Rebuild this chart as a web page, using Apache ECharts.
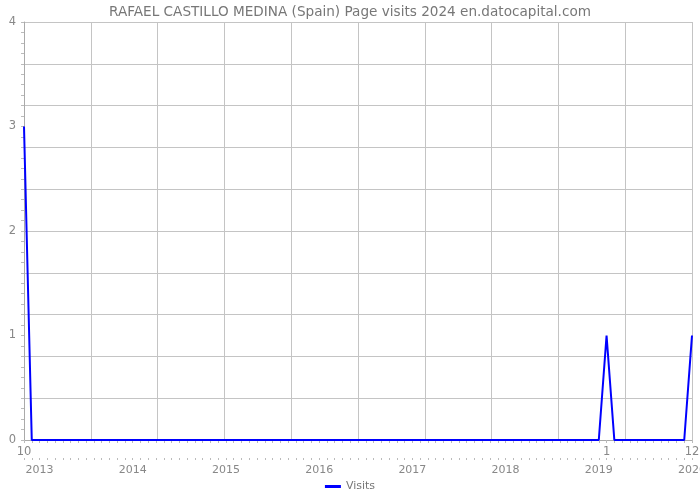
<!DOCTYPE html>
<html>
<head>
<meta charset="utf-8">
<script src="https://cdn.jsdelivr.net/npm/echarts@6/dist/echarts.min.js"></script>
<style>html,body{margin:0;padding:0;background:#fff}#c{width:700px;height:500px}</style>
</head>
<body>
<div id="c"></div>
<script>
// Monthly categories Oct 2013 .. Dec 2020
var startYear = 2013, startMonth = 10, monthCount = 87;
var months = [];
for (var i = 0; i < monthCount; i++) {
  var m = startMonth - 1 + i;
  var y = startYear + Math.floor(m / 12);
  months.push(y + '-' + String(m % 12 + 1).padStart(2, '0'));
}
// Page visits per month
var visits = [
  3,0,0,0,0,0,0,0,0,0,0,0,0,0,0,0,0,0,0,0,0,0,0,0,0,
  0,0,0,0,0,0,0,0,0,0,0,0,0,0,0,0,0,0,0,0,0,0,0,0,0,
  0,0,0,0,0,0,0,0,0,0,0,0,0,0,0,0,0,0,0,0,0,0,0,0,0,
  1,0,0,0,0,0,0,0,0,0,0,1
];
// Month tick labels (first row)
var monthTickLabels = { '2013-10': '10', '2020-01': '1', '2020-12': '12' };
// Year tick labels (second row), placed at December of each year
var yearTickLabels = { '2013-12': '2013', '2014-12': '2014', '2015-12': '2015', '2016-12': '2016',
  '2017-12': '2017', '2018-12': '2018', '2019-12': '2019', '2020-12': '2020' };
var yTickLabels = [0, 1, 2, 3, 4];

var FONT = 'DejaVu Sans';
var chart = echarts.init(document.getElementById('c'), null, { renderer: 'canvas' });
chart.setOption({
  animation: false,
  textStyle: { fontFamily: FONT },
  title: {
    text: 'RAFAEL CASTILLO MEDINA (Spain) Page visits 2024 en.datocapital.com',
    left: 'center', top: 0,
    textStyle: { fontSize: 13.6, fontWeight: 'normal', color: '#777', fontFamily: FONT }
  },
  legend: {
    bottom: 3, left: 'center',
    icon: 'rect', itemWidth: 16, itemHeight: 3, itemGap: 4,
    textStyle: { color: '#777', fontSize: 11, fontFamily: FONT },
    data: ['Visits']
  },
  grid: { left: 24, right: 8, top: 22, bottom: 60, outerBoundsMode: 'none', containLabel: false },
  xAxis: [
    { type: 'value', min: 0, max: monthCount - 1, interval: (monthCount - 1) / 10,
      axisLine: { show: true, lineStyle: { color: '#aaa' } },
      axisTick: { show: false }, axisLabel: { show: false },
      splitLine: { show: true, lineStyle: { color: '#c4c4c4', width: 1 } } },
    { type: 'category', data: months, boundaryGap: false, position: 'bottom',
      axisLine: { show: false },
      axisTick: { show: true, interval: 0, length: 3, lineStyle: { color: '#bbb' } },
      axisLabel: { interval: 0, margin: 6, color: '#888', fontSize: 11.5, fontFamily: FONT,
        formatter: function (v) { return monthTickLabels[v] || ''; } },
      splitLine: { show: false } },
    { type: 'category', data: months, boundaryGap: false, position: 'bottom', offset: 18,
      axisLine: { show: false },
      axisTick: { show: true, interval: 0, length: 2, lineStyle: { color: '#bbb' } },
      axisLabel: { interval: 0, margin: 7, color: '#888', fontSize: 11, fontFamily: FONT,
        formatter: function (v) { return yearTickLabels[v] || ''; } },
      splitLine: { show: false } }
  ],
  yAxis: [
    { type: 'value', min: 0, max: 4, interval: 0.4, position: 'left',
      axisLine: { show: false }, axisTick: { show: false }, axisLabel: { show: false },
      splitLine: { show: true, lineStyle: { color: '#c4c4c4', width: 1 } } },
    { type: 'value', min: 0, max: 4, interval: 0.1, position: 'left', offset: 0,
      axisLine: { show: true, lineStyle: { color: '#aaa' } },
      axisTick: { show: true, length: 3, lineStyle: { color: '#bbb' } },
      axisLabel: { margin: 8, color: '#888', fontSize: 11.5, fontFamily: FONT,
        formatter: function (v) {
          var r = Math.round(v);
          return (Math.abs(v - r) < 1e-6 && yTickLabels.indexOf(r) >= 0) ? String(r) : '';
        } },
      splitLine: { show: false } }
  ],
  series: [{
    name: 'Visits', type: 'line', xAxisIndex: 1, yAxisIndex: 1,
    data: visits, showSymbol: false, symbol: 'none',
    lineStyle: { color: '#0000ff', width: 2 }, itemStyle: { color: '#0000ff' }
  }]
});
</script>
</body>
</html>
